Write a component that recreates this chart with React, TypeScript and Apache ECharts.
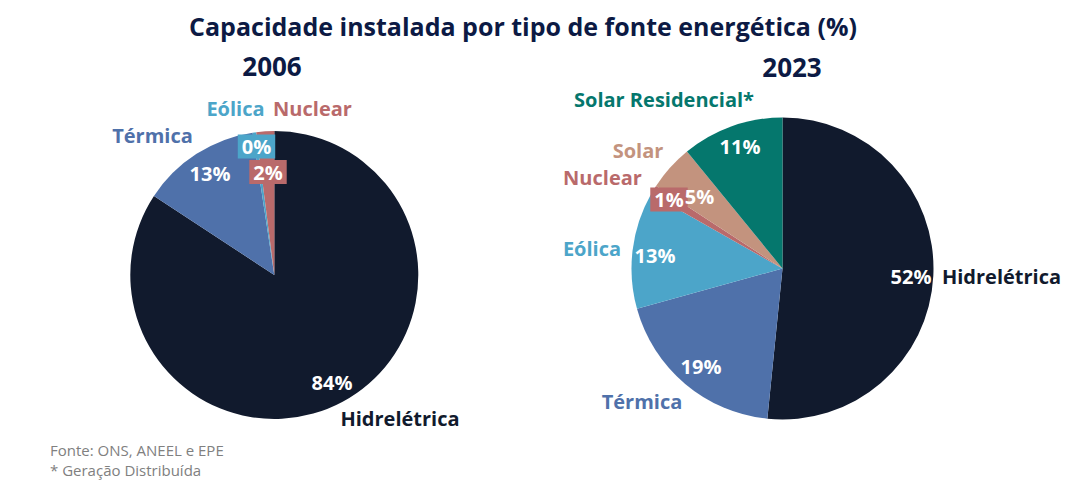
import React, { useEffect, useRef } from "react";
import * as echarts from "echarts";

// ---- data ----
const categories2006 = ["Hidrelétrica", "Térmica", "Eólica", "Nuclear"];
const values2006 = [84.0, 13.3, 0.4, 2.0];

const categories2023 = ["Hidrelétrica", "Térmica", "Eólica", "Nuclear", "Solar", "Solar Residencial*"];
const values2023 = [51.6, 19.1, 12.5, 1.0, 4.9, 10.9];

const chartTitle = "Capacidade instalada por tipo de fonte energética (%)";
const yearLabels = ["2006", "2023"];
const footnotes = ["Fonte: ONS, ANEEL e EPE", "* Geração Distribuída"];

// ---- styles ----
const FONT = "'Open Sans', 'Noto Sans', sans-serif";
const colors: Record<string, string> = {
  "Hidrelétrica": "#111a2d",
  "Térmica": "#4f71aa",
  "Eólica": "#4ca5c9",
  "Nuclear": "#b96a6b",
  "Solar": "#c3937e",
  "Solar Residencial*": "#05776d",
};

// label anchor positions (label centres)
const pctPos2006 = [[332, 382], [210, 173], [256.5, 146.5], [268, 172]];
const namePos2006 = [[400, 418], [152.5, 135], [235.5, 108], [312.5, 108]];
const boxed2006 = [false, false, true, true];

const pctPos2023 = [[911, 276], [701, 366], [655, 255], [669, 199.5], [699.5, 196], [740, 146]];
const namePos2023 = [[1001.5, 276], [642, 401], [592, 248], [602.5, 177], [638, 150], [664, 99]];
const boxed2023 = [false, false, false, true, false, false];

function buildPie(
  cats: string[],
  vals: number[],
  center: [number, number],
  radius: number,
  pctPos: number[][],
  namePos: number[][],
  boxed: boolean[]
) {
  const base = {
    type: "pie",
    center,
    radius,
    startAngle: 90,
    clockwise: true,
    avoidLabelOverlap: false,
    labelLine: { show: false },
    emphasis: { disabled: true },
    silent: true,
  };
  const pctData = cats.map((c, i) => ({
    name: c,
    value: vals[i],
    itemStyle: { color: colors[c] },
    label: boxed[i]
      ? { backgroundColor: colors[c], padding: [3, 4, 1, 4] }
      : {},
  }));
  const nameData = cats.map((c, i) => ({
    name: c,
    value: vals[i],
    itemStyle: { color: "rgba(0,0,0,0)" },
    label: { color: colors[c] },
  }));
  return [
    {
      ...base,
      data: pctData,
      itemStyle: { borderWidth: 0 },
      label: {
        show: true,
        position: "inside",
        formatter: (p: any) => Math.round(p.value) + "%",
        color: "#ffffff",
        fontSize: 20,
        fontWeight: "bold",
        fontFamily: FONT,
      },
      labelLayout: (p: any) => ({
        x: pctPos[p.dataIndex][0],
        y: pctPos[p.dataIndex][1],
        align: "center",
        verticalAlign: "middle",
      }),
    },
    {
      ...base,
      data: nameData,
      itemStyle: { borderWidth: 0 },
      label: {
        show: true,
        position: "inside",
        formatter: "{b}",
        fontSize: 20,
        fontWeight: "bold",
        fontFamily: FONT,
      },
      labelLayout: (p: any) => ({
        x: namePos[p.dataIndex][0],
        y: namePos[p.dataIndex][1],
        align: "center",
        verticalAlign: "middle",
      }),
    },
  ];
}

function txt(text: string, x: number, y: number, size: number, weight: string, fill: string, align = "center") {
  return {
    type: "text",
    x,
    y,
    silent: true,
    style: {
      text,
      fill,
      fontSize: size,
      fontWeight: weight,
      fontFamily: FONT,
      align,
      textAlign: align,
      verticalAlign: "middle",
      textVerticalAlign: "middle",
    },
  };
}

export default function App() {
  const ref = useRef<HTMLDivElement>(null);
  useEffect(() => {
    if (!ref.current) return;
    const chart = echarts.init(ref.current, undefined, { renderer: "svg" });
    chart.setOption({
      animation: false,
      backgroundColor: "#ffffff",
      graphic: [
        txt(chartTitle, 523, 26, 25, "bold", "#0c1a44"),
        txt(yearLabels[0], 272, 66, 26, "bold", "#0c1a44"),
        txt(yearLabels[1], 792, 67, 26, "bold", "#0c1a44"),
        txt(footnotes[0], 50, 450, 15, "normal", "#808080", "left"),
        txt(footnotes[1], 50, 470, 15, "normal", "#808080", "left"),
      ],
      series: [
        ...buildPie(categories2006, values2006, [274.3, 275], 144, pctPos2006, namePos2006, boxed2006),
        ...buildPie(categories2023, values2023, [782.5, 268.5], 151, pctPos2023, namePos2023, boxed2023),
      ],
    });
    return () => chart.dispose();
  }, []);
  return (
    <div
      ref={ref}
      style={{ position: "absolute", left: 0, top: 0, width: 1075, height: 492 }}
    />
  );
}
